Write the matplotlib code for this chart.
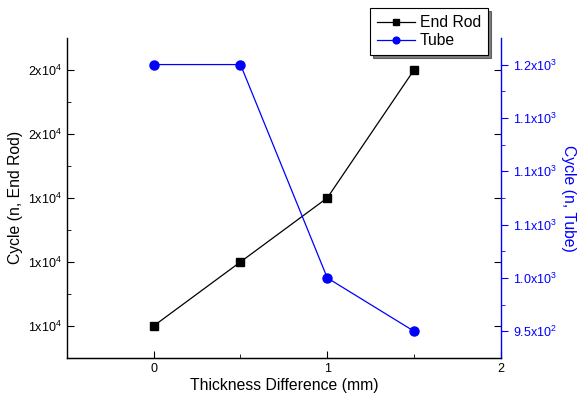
import matplotlib
matplotlib.use('Agg')
import matplotlib.pyplot as plt
from matplotlib.ticker import FixedLocator, MultipleLocator

plt.rcParams['font.family'] = ['Liberation Sans', 'DejaVu Sans']
plt.rcParams['mathtext.fontset'] = 'custom'
plt.rcParams['mathtext.rm'] = 'Liberation Sans'

# data
thickness = [0, 0.5, 1, 1.5]
end_rod = [10000, 12000, 14000, 18000]
tube = [1200, 1200, 1000, 950]

x_ticks = [0, 1, 2]
left_ticks = [10000, 12000, 14000, 16000, 18000]
left_labels = ['1x10^4', '1x10^4', '1x10^4', '2x10^4', '2x10^4']
right_ticks = [950, 1000, 1050, 1100, 1150, 1200]
right_labels = ['9.5x10^2', '1.0x10^3', '1.1x10^3', '1.1x10^3', '1.1x10^3', '1.2x10^3']

def mt(s):
    a, b = s.split('^')
    return r'$\mathregular{' + a + '^{' + b + '}}$'

blue = '#0000ff'
fig = plt.figure(figsize=(5.77, 3.99), dpi=100)
ax = fig.add_axes([0.116, 0.103, 0.752, 0.802])
ax2 = ax.twinx()

l1, = ax.plot(thickness, end_rod, color='black', lw=0.9, marker='s', ms=5.5, label='End Rod')
l2, = ax2.plot(thickness, tube, color=blue, lw=0.9, marker='o', ms=6.5, label='Tube')

ax.set_xlim(-0.5, 2)
ax.set_ylim(9000, 19000)
ax2.set_ylim(925, 1225)

ax.set_xticks(x_ticks)
ax.xaxis.set_minor_locator(MultipleLocator(0.5))
ax.set_yticks(left_ticks)
ax.set_yticklabels([mt(s) for s in left_labels])
ax.yaxis.set_minor_locator(FixedLocator([11000, 13000, 15000, 17000]))
ax2.set_yticks(right_ticks)
ax2.set_yticklabels([mt(s) for s in right_labels])
ax2.yaxis.set_minor_locator(FixedLocator([975, 1025, 1075, 1125, 1175]))

ax.spines['top'].set_visible(False)
ax2.spines['top'].set_visible(False)
ax2.spines['right'].set_color(blue)
ax.spines['right'].set_visible(False)
ax2.spines['left'].set_visible(False)
for s in ['left', 'bottom']:
    ax.spines[s].set_linewidth(1.0)
ax2.spines['right'].set_linewidth(1.0)

ax.tick_params(axis='both', which='both', direction='in', labelsize=9)
ax.tick_params(axis='y', right=True)
ax.tick_params(which='major', length=5)
ax.tick_params(which='minor', length=3)
ax2.tick_params(axis='y', which='both', direction='out', colors=blue, labelsize=9)
ax2.tick_params(axis='y', which='major', length=5)
ax2.tick_params(axis='y', which='minor', length=3)

ax.set_xlabel('Thickness Difference (mm)', fontsize=11.3, labelpad=2)
ax.set_ylabel('Cycle (n, End Rod)', fontsize=11.3, labelpad=4)
ax2.set_ylabel('Cycle (n, Tube)', fontsize=11.3, color=blue, rotation=270, labelpad=14)

leg = fig.legend(handles=[l1, l2], loc='upper right', bbox_to_anchor=(0.846, 0.98),
                 fontsize=11.3, frameon=True, fancybox=False, shadow={'color': 'black'},
                 handlelength=2.4, borderpad=0.45, labelspacing=0.2, handletextpad=0.3,
                 borderaxespad=0, markerscale=0.75)
leg.get_frame().set_edgecolor('black')
leg.get_frame().set_linewidth(0.8)

fig.savefig('out.png', dpi=100)
